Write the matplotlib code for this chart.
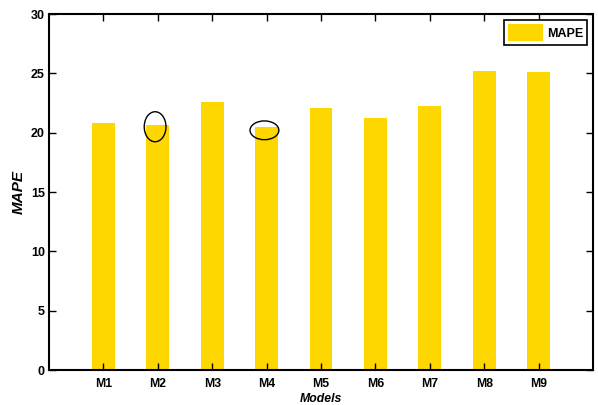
import matplotlib
matplotlib.use("Agg")
import matplotlib.pyplot as plt
from matplotlib.patches import Ellipse

models = ["M1", "M2", "M3", "M4", "M5", "M6", "M7", "M8", "M9"]
mape = [20.8, 20.64, 22.6, 20.45, 22.1, 21.25, 22.24, 25.19, 25.1]
yticks = [0, 5, 10, 15, 20, 25, 30]

plt.rcParams['font.family'] = ['Liberation Sans', 'DejaVu Sans']

fig = plt.figure(figsize=(5.98, 4.05), dpi=100)
ax = fig.add_axes([0.082, 0.0864, 0.9096, 0.879])

x = list(range(1, len(models) + 1))
ax.bar(x, mape, width=0.42, color='#FFD700', label='MAPE')

ax.add_patch(Ellipse((1.95, 20.5), 0.40, 2.53, fill=False, edgecolor='black', lw=1.0))
ax.add_patch(Ellipse((3.96, 20.2), 0.53, 1.58, fill=False, edgecolor='black', lw=1.0))

ax.set_xlim(0, 10)
ax.set_ylim(0, 30)
ax.set_xticks(x)
ax.set_xticklabels(models, fontweight='bold', fontsize=8.8)
ax.set_yticks(yticks)
ax.set_yticklabels([str(v) for v in yticks], fontweight='bold', fontsize=9)
ax.tick_params(direction='in', top=True, right=True, length=5, width=1.0)
ax.tick_params(axis='x', pad=6)
ax.tick_params(axis='y', pad=3)
for s in ax.spines.values():
    s.set_linewidth(1.5)

ax.set_xlabel('Models', fontweight='bold', fontstyle='italic', fontsize=8.8, labelpad=2)
ax.set_ylabel('MAPE', fontweight='bold', fontstyle='italic', fontsize=11, labelpad=4)

leg = ax.legend(loc='upper right', prop={'weight': 'bold', 'size': 9},
                fancybox=False, edgecolor='black', framealpha=1, handlelength=2.8,
                handleheight=1.7, borderaxespad=0.5, borderpad=0.3, handletextpad=0.3)
leg.get_frame().set_linewidth(1.2)

fig.savefig('out.png', dpi=100)
